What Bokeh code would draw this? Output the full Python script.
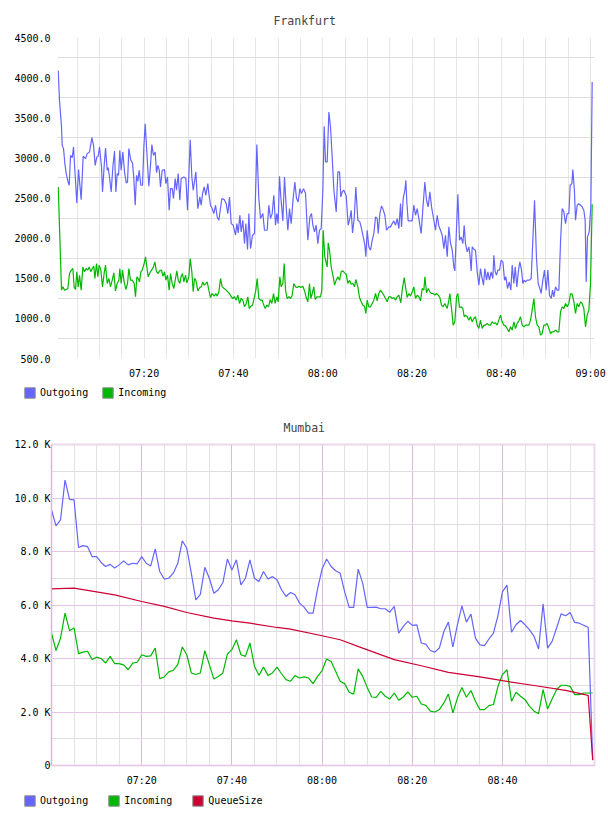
from bokeh.plotting import figure
from bokeh.models import Range1d, FixedTicker, Legend, LegendItem, PrintfTickFormatter
from bokeh.layouts import column
from bokeh.embed import file_html
from bokeh.resources import INLINE

MONO = "DejaVu Sans Mono"
BLUE = "#6464ff"
GREEN = "#00b800"
RED = "#cc0033"

# ---------------- Frankfurt (x = minutes after 07:00) ----------------
fra_out_t = [
    0.76, 1.05, 1.50, 1.65, 1.95, 2.25, 2.55, 2.92, 3.22, 3.52,
    3.89, 4.19, 4.49, 4.93, 5.31, 5.90, 6.35, 6.88, 7.25, 7.77,
    8.30, 8.67, 9.04, 9.41, 9.71, 10.01, 10.46, 10.68, 11.06, 11.36,
    11.73, 11.95, 12.25, 12.62, 13.00, 13.37, 13.67, 13.97, 14.27, 14.56,
    14.86, 15.24, 15.61, 15.99, 16.28, 16.58, 17.03, 17.40, 17.70, 18.00,
    18.30, 18.60, 18.89, 19.27, 19.64, 19.94, 20.24, 20.69, 21.06, 21.43,
    21.73, 22.10, 22.48, 22.78, 23.08, 23.37, 23.67, 24.05, 24.57, 24.87,
    25.24, 25.61, 25.91, 26.29, 26.58, 26.96, 27.26, 27.63, 28.00, 28.30,
    28.90, 29.35, 29.72, 30.32, 30.69, 30.99, 31.59, 32.03, 32.48, 32.78,
    33.08, 33.45, 33.82, 34.27, 34.50, 34.87, 35.24, 35.62, 35.99, 36.37,
    36.74, 37.04, 37.41, 37.93, 38.38, 38.75, 39.13, 39.50, 39.95, 40.47,
    40.77, 41.07, 41.44, 41.74, 42.11, 42.49, 42.78, 43.16, 43.46, 43.83,
    44.28, 44.72, 45.25, 45.69, 46.07, 46.59, 46.96, 47.56, 47.93, 48.31,
    48.68, 49.05, 49.43, 49.72, 50.02, 50.32, 50.62, 51.07, 51.44, 51.82,
    52.19, 52.56, 52.93, 53.38, 53.76, 54.13, 54.50, 54.88, 55.25, 55.70,
    56.15, 56.67, 57.12, 57.49, 57.79, 58.16, 58.53, 58.91, 59.28, 59.66,
    60.03, 60.33,
    60.63, 61.00, 61.38, 61.75, 62.12, 62.50, 63.02, 63.39, 63.77, 64.06,
    64.36, 64.74, 65.26, 65.71, 66.08, 66.38, 66.68, 67.05, 67.42, 67.87,
    68.32, 68.69, 69.07, 69.44, 69.66, 69.96, 70.33, 70.71, 71.08, 71.45,
    71.83, 72.20, 72.42, 72.80, 73.17, 73.54, 73.92, 74.29, 74.81, 75.19,
    75.56, 75.93, 76.31, 76.68, 77.05, 77.43, 77.65, 78.02, 78.40, 78.62,
    78.84, 79.14, 79.67, 80.04, 80.41, 80.79, 81.16, 81.53, 82.05, 82.43,
    82.88, 83.25, 83.62, 84.00, 84.37, 84.89, 85.26, 85.64, 86.01, 86.38,
    86.76, 87.13, 87.50, 87.88, 88.25, 88.62, 89.00, 89.37, 89.59, 90.27,
    90.64, 91.01, 91.39, 91.68, 91.98, 92.36, 92.73, 92.95, 93.25, 93.48,
    93.92, 94.22, 94.60, 94.97, 95.34, 95.64, 96.01, 96.31, 96.69, 96.98,
    97.36, 97.73, 98.10, 98.33, 98.63, 98.93, 99.22, 99.60, 99.97, 100.35,
    100.72, 101.02, 101.39, 101.76, 102.14, 102.43, 102.81, 103.11, 103.48, 103.85,
    104.15, 104.52, 104.82, 105.12, 105.42, 105.79, 106.32, 106.69, 107.06, 107.44,
    107.88, 108.26, 108.63, 108.93, 109.30, 109.67, 110.05, 110.42, 110.79, 111.17,
    111.47, 111.76, 112.14, 112.51, 112.89, 113.26, 113.63, 114.01, 114.38, 114.75,
    115.13, 115.42, 115.80, 116.02, 116.39, 116.62, 116.99, 117.36, 117.74, 118.11,
    118.48, 118.78, 119.01, 119.30, 119.68, 120.05, 120.35,
]
fra_out = [
    4090, 3716, 3385, 3156, 3115, 2928, 2804, 2712, 2659, 3032,
    3003, 3136, 2845, 2439, 2854, 2480, 3020, 2990, 3053, 3073,
    3252, 3156, 2907, 3011, 3020, 3136, 2887, 2576, 2907, 3123,
    2845, 2878, 2762, 2576, 2887, 3086, 2576, 2804, 2783, 3094,
    2845, 3073, 2825, 2688, 2700, 3115, 2970, 2937, 2742, 2410,
    2783, 2708, 2845, 2659, 2659, 3136, 3426, 2990, 2646, 2907,
    3165, 3032, 3073, 2816, 2907, 2854, 2638, 2845, 2854, 2679,
    2762, 2347, 2617, 2617, 2493, 2742, 2596, 2804, 2472, 2742,
    2762, 2742, 2347, 3227, 2762, 2596, 2825, 2368, 2513, 2410,
    2555, 2638, 2534, 2679, 2555, 2410, 2368, 2306, 2410, 2264,
    2223, 2347, 2493, 2480, 2430, 2306, 2513, 2181, 2161, 2036,
    2181, 2065, 2285, 2078, 2223, 1932, 2181, 1858, 2306, 1870,
    2036, 2057, 3165, 2493, 2244, 2306, 2098, 2098, 2410, 2244,
    2306, 2534, 2161, 2306, 2181, 2771, 2513, 2215, 2762, 2389,
    2098, 2368, 2181, 2493, 2700, 2493, 2451, 2617, 2555, 2617,
    2555, 1974, 2264, 2306, 2161, 2078, 2161, 1932, 2098, 2119,
    2596, 3393,
    2949, 2949, 3571, 3385, 3011, 2596, 2327, 2825, 2825, 2513,
    2576, 2596, 2526, 2161, 2244, 2347, 2065, 2244, 2638, 2223,
    2202, 2119, 2015, 1912, 1767, 2098, 1891, 1849, 1974, 2057,
    2264, 2244, 2057, 2306, 2401, 2356, 2285, 2098, 2140, 2140,
    2181, 2215, 2161, 2244, 2119, 2430, 2140, 2493, 2596, 2721,
    2451, 2215, 2215, 2215, 2410, 2285, 2368, 2244, 2057, 2368,
    2700, 2472, 2389, 2576, 2389, 2223, 2098, 2285, 2152, 2098,
    2036, 1870, 2036, 1767, 2140, 1941, 1849, 1642, 1592, 2547,
    1974, 2015, 1932, 2161, 1932, 1829, 1891, 1808, 1592, 1891,
    1858, 1849, 1580, 1414, 1621, 1518, 1414, 1621, 1476, 1580,
    1476, 1580, 1497, 1787, 1580, 1538, 1601, 1601, 1725, 1704,
    1476, 1518, 1372, 1455, 1352, 1663, 1435, 1642, 1393, 1601,
    1704, 1601, 1435, 1476, 1455, 1476, 1476, 1497, 1974, 2472,
    1746, 1435, 1372, 1310, 1476, 1601, 1352, 1601, 1289, 1248,
    1352, 1269, 1393, 1352, 1352, 1953, 2368, 2327, 2181, 2306,
    2306, 2659, 2679, 2854, 2576, 2223, 2410, 2430, 2410, 2389,
    2347, 2223, 1455, 2015, 2078, 2389, 3945,
]
fra_in_t = [
    0.76, 1.05, 1.50, 1.80, 2.17, 2.55, 2.92, 3.29, 3.67, 4.04,
    4.34, 4.64, 4.93, 5.23, 5.53, 5.90, 6.28, 6.65, 7.02, 7.40,
    7.70, 8.07, 8.37, 8.74, 8.97, 9.34, 9.64, 9.94, 10.31, 10.68,
    11.06, 11.36, 11.73, 12.10, 12.47, 12.85, 13.22, 13.59, 13.97, 14.34,
    14.56, 14.86, 15.16, 15.53, 15.91, 16.28, 16.58, 16.95, 17.33, 17.77,
    18.07, 18.37, 18.67, 18.97, 19.27, 19.57, 20.01, 20.31, 20.61, 20.91,
    21.28, 21.66, 22.10, 22.40, 22.78, 23.15, 23.45, 23.90, 24.19, 24.57,
    24.87, 25.24, 25.61, 25.91, 26.29, 26.66, 27.03, 27.33, 27.63, 28.00,
    28.30, 28.60, 28.90, 29.27, 29.57, 30.02, 30.32, 30.69, 30.99, 31.29,
    31.59, 32.03, 32.48, 32.78, 33.15, 33.45, 33.82, 34.12, 34.50, 34.87,
    35.24, 35.69, 36.06, 36.36, 36.74, 37.11, 37.48, 37.93, 38.38, 38.75,
    39.13, 39.50, 39.87, 40.24, 40.62, 40.99, 41.36, 41.74, 42.11, 42.48,
    42.86, 43.23, 43.53, 43.90, 44.28, 44.72, 45.02, 45.32, 45.69, 46.07,
    46.44, 46.81, 47.11, 47.48, 47.86, 48.23, 48.60, 48.98, 49.35, 49.72,
    50.02, 50.40, 50.70, 51.07, 51.37, 51.67, 52.04, 52.41, 52.79, 53.16,
    53.53, 53.91, 54.28, 54.73, 55.10, 55.55, 56.00, 56.29, 56.67, 57.04,
    57.34, 57.64, 58.01, 58.31, 58.68, 59.06, 59.50, 59.80, 60.10, 60.47,
    61.00, 61.23, 61.53, 61.90, 62.35, 62.65, 63.02, 63.39, 63.77, 64.14,
    64.51, 64.89, 65.26, 65.63, 66.00, 66.38, 66.75, 67.12, 67.42, 67.87,
    68.24, 68.62, 68.99, 69.36, 69.66, 69.96, 70.33, 70.71, 71.08, 71.45,
    71.83, 72.20, 72.57, 72.95, 73.32, 73.69, 74.07, 74.44, 74.81, 75.19,
    75.56, 75.93, 76.31, 76.68, 77.05, 77.50, 77.80, 78.25, 78.55, 78.92,
    79.29, 79.67, 80.04, 80.41, 80.79, 81.16, 81.53, 81.91, 82.28, 82.65,
    82.88, 83.25, 83.62, 84.00, 84.37, 84.74, 85.12, 85.49, 85.86, 86.24,
    86.61, 86.98, 87.35, 87.88, 88.25, 88.47, 88.85, 89.22, 89.59, 89.97,
    90.27, 90.64, 91.01, 91.39, 91.68, 91.98, 92.36, 92.73, 93.10, 93.48,
    93.85, 94.22, 94.60, 94.97, 95.34, 95.72, 96.09, 96.46, 96.84, 97.21,
    97.58, 97.96, 98.33, 98.70, 99.07, 99.45, 99.82, 100.19, 100.57, 100.94,
    101.31, 101.69, 102.06, 102.43, 102.81, 103.18, 103.55, 103.93, 104.30, 104.67,
    105.05, 105.42, 105.79, 106.17, 106.54, 106.91, 107.29, 107.66, 108.03, 108.41,
    108.78, 109.15, 109.53, 109.90, 110.27, 110.65, 111.02, 111.39, 111.77, 112.14,
    112.51, 112.89, 113.26, 113.63, 114.01, 114.38, 114.75, 115.13, 115.50, 115.87,
    116.25, 116.62, 116.99, 117.36, 117.74, 118.11, 118.48, 118.86, 119.23, 119.60,
    119.98, 120.35,
]
fra_in = [
    2638, 2140, 1352, 1393, 1352, 1360, 1372, 1559, 1601, 1621,
    1385, 1360, 1580, 1393, 1538, 1352, 1642, 1580, 1621, 1601,
    1642, 1580, 1621, 1650, 1497, 1684, 1518, 1663, 1601, 1393,
    1567, 1663, 1435, 1497, 1393, 1476, 1567, 1343, 1435, 1476,
    1621, 1435, 1601, 1455, 1360, 1435, 1621, 1476, 1476, 1435,
    1269, 1518, 1497, 1455, 1580, 1601, 1684, 1767, 1642, 1518,
    1567, 1601, 1642, 1704, 1580, 1559, 1592, 1601, 1526, 1580,
    1476, 1538, 1352, 1559, 1435, 1372, 1497, 1592, 1476, 1435,
    1526, 1559, 1455, 1538, 1443, 1518, 1746, 1580, 1331, 1497,
    1476, 1343, 1385, 1393, 1455, 1414, 1435, 1455, 1352, 1260,
    1310, 1277, 1310, 1277, 1331, 1497, 1393, 1372, 1352, 1331,
    1310, 1269, 1248, 1269, 1227, 1289, 1186, 1248, 1227, 1144,
    1186, 1269, 1123, 1152, 1165, 1269, 1352, 1497, 1248, 1227,
    1227, 1165, 1123, 1165, 1144, 1235, 1186, 1310, 1186, 1269,
    1206, 1518, 1393, 1435, 1684, 1352, 1248, 1269, 1248, 1289,
    1435, 1393, 1385, 1401, 1385, 1401, 1331, 1260, 1206, 1435,
    1248, 1310, 1393, 1235, 1269, 1269, 1269, 1352, 2098, 1767,
    1642, 1941, 1849, 1642, 1518, 1414, 1476, 1518, 1476, 1580,
    1592, 1567, 1551, 1435, 1476, 1426, 1435, 1393, 1484, 1393,
    1260, 1206, 1165, 1152, 1061, 1227, 1144, 1144, 1186, 1227,
    1310, 1219, 1310, 1352, 1318, 1289, 1248, 1206, 1269, 1269,
    1248, 1260, 1227, 1269, 1289, 1194, 1352, 1509, 1393, 1260,
    1310, 1277, 1331, 1393, 1248, 1289, 1269, 1219, 1372, 1352,
    1518, 1318, 1372, 1331, 1310, 1310, 1289, 1310, 1289, 1260,
    1165, 1144, 1186, 1123, 1227, 1310, 1123, 916, 957, 1269,
    1310, 1136, 1144, 1123, 1020, 1040, 1020, 978, 1020, 957,
    999, 1020, 916, 874, 978, 874, 916, 916, 937, 916,
    916, 957, 937, 945, 916, 978, 1040, 957, 916, 904,
    874, 833, 895, 854, 957, 874, 937, 970, 1020, 916,
    895, 916, 916, 916, 978, 1103, 1248, 1020, 916, 895,
    791, 812, 916, 916, 937, 874, 812, 833, 833, 854,
    833, 833, 1082, 1144, 1123, 1186, 1144, 1186, 1310, 1302,
    1206, 1061, 1186, 1144, 1206, 1186, 1123, 895, 1040, 1103,
    1435, 2422,
]
fra_y_ticks = [500, 1000, 1500, 2000, 2500, 3000, 3500, 4000, 4500]
fra_y_grid = [750, 1250, 1750, 2250, 2750, 3250, 3750, 4250]

# ---------------- Mumbai (one sample per minute after 07:00, values in K) ----------------
mum_t = list(range(121))
mum_out = [
    9.55, 8.96, 9.18, 10.67, 9.95, 9.93, 8.15, 8.22, 8.18, 7.81,
    7.81, 7.59, 7.44, 7.52, 7.38, 7.50, 7.65, 7.50, 7.56, 7.54,
    7.81, 7.56, 7.46, 8.10, 7.25, 6.97, 7.00, 7.19, 7.56, 8.40,
    8.12, 7.19, 6.19, 6.40, 7.41, 7.00, 6.44, 6.57, 6.84, 7.72,
    7.31, 7.69, 6.75, 7.00, 7.69, 7.00, 6.88, 7.25, 6.97, 7.06,
    6.94, 6.57, 6.32, 6.47, 6.38, 6.07, 5.92, 5.70, 5.70, 6.60,
    7.35, 7.72, 7.44, 7.28, 7.19, 6.50, 5.91, 5.91, 7.34, 6.82,
    5.91, 5.91, 5.92, 5.86, 5.86, 5.73, 5.95, 4.95, 5.20, 5.39,
    5.24, 5.26, 4.58, 4.54, 4.30, 4.24, 4.39, 5.01, 5.36, 4.43,
    5.26, 5.97, 5.36, 5.66, 4.76, 4.51, 4.48, 4.73, 4.95, 5.61,
    6.50, 6.74, 4.98, 5.26, 5.42, 5.26, 5.07, 4.83, 4.35, 6.04,
    4.39, 4.64, 5.14, 5.67, 5.60, 5.72, 5.35, 5.32, 5.24, 5.17,
    0.22,
]
mum_in = [
    4.95, 4.30, 4.76, 5.70, 5.04, 5.14, 4.18, 4.24, 4.27, 3.96,
    4.05, 4.00, 3.83, 4.08, 3.81, 3.81, 3.76, 3.58, 3.83, 3.86,
    4.14, 4.08, 4.10, 4.39, 3.25, 3.31, 3.50, 3.56, 3.77, 4.43,
    4.14, 3.46, 3.40, 3.46, 4.29, 3.77, 3.23, 3.33, 3.46, 4.17,
    4.33, 4.70, 4.14, 4.08, 4.58, 3.71, 3.37, 3.68, 3.37, 3.46,
    3.68, 3.43, 3.21, 3.15, 3.36, 3.27, 3.31, 3.27, 3.06, 3.33,
    3.55, 3.98, 3.89, 3.52, 3.15, 3.06, 2.74, 2.67, 3.61, 3.33,
    2.92, 2.56, 2.55, 2.77, 2.59, 2.49, 2.71, 2.44, 2.56, 2.75,
    2.55, 2.59, 2.30, 2.25, 2.03, 2.00, 2.09, 2.34, 2.67, 1.97,
    2.52, 2.92, 2.55, 2.80, 2.40, 2.09, 2.09, 2.24, 2.28, 2.96,
    3.40, 3.58, 2.40, 2.74, 2.59, 2.46, 2.21, 2.03, 1.94, 2.84,
    2.11, 2.49, 2.84, 3.00, 3.00, 2.96, 2.65, 2.65, 2.71, 2.71,
    2.71,
]
mum_q_t = [0, 5, 14, 20, 25, 30, 36, 40, 44, 50, 53, 60, 64, 69, 76, 82, 88, 95, 100, 107, 114, 119, 120]
mum_q = [6.60, 6.63, 6.38, 6.13, 5.95, 5.72, 5.51, 5.41, 5.32, 5.16, 5.10, 4.85, 4.70, 4.39, 3.96,
         3.73, 3.48, 3.31, 3.17, 2.99, 2.81, 2.62, 0.20]
mum_y_ticks = [0, 2, 4, 6, 8, 10, 12]
mum_y_labels = ["0", "2.0 K", "4.0 K", "6.0 K", "8.0 K", "10.0 K", "12.0 K"]

x_label_minutes = [20, 40, 60, 80, 100, 120]
x_labels = ["07:20", "07:40", "08:00", "08:20", "08:40", "09:00"]
grid_minutes = list(range(5, 121, 5))


def style_axes(p, standoff_y, standoff_x):
    for ax in (p.xaxis[0], p.yaxis[0]):
        ax.major_tick_line_color = None
        ax.minor_tick_line_color = None
        ax.major_tick_out = 0
        ax.major_tick_in = 0
        ax.minor_tick_out = 0
        ax.major_label_text_font = MONO
        ax.major_label_text_font_size = "10px"
        ax.major_label_text_color = "#000000"
    p.yaxis[0].major_label_standoff = standoff_y
    p.xaxis[0].major_label_standoff = standoff_x


def legend_strip(names, colors, height, y_loc, spacing):
    q = figure(width=608, height=height, x_range=Range1d(0, 1), y_range=Range1d(0, 1),
               x_axis_type=None, y_axis_type=None, toolbar_location=None,
               output_backend="svg", min_border=0, outline_line_color=None)
    q.frame_align = False
    items = []
    for n, c in zip(names, colors):
        # a swatch-only renderer, parked outside the visible range
        r = q.quad(left=[5], right=[6], top=[6], bottom=[5], fill_color=c, line_color="#8a8a8a")
        items.append(LegendItem(label=n, renderers=[r]))
    lg = Legend(items=items, orientation="horizontal", location=(23, y_loc),
                glyph_width=13, glyph_height=13, label_height=13, label_standoff=4,
                spacing=spacing, padding=0, margin=0, border_line_color=None,
                background_fill_alpha=0, label_text_font=MONO, label_text_font_size="10px",
                label_text_color="#000000")
    q.add_layout(lg)
    return q


# ---------------- Figure 1 ----------------
p1 = figure(width=608, height=384, x_range=Range1d(0.6, 120.87), y_range=Range1d(500, 4500),
            toolbar_location=None, output_backend="svg",
            min_border_left=57, min_border_right=14, min_border_top=37, min_border_bottom=26)
p1.frame_align = False
p1.title.text = "Frankfurt"
p1.title.text_font = MONO
p1.title.text_font_size = "11.5px"
p1.title.text_font_style = "normal"
p1.title.align = "left"
p1.title.offset = 216
p1.title.standoff = 20
p1.outline_line_color = None
p1.yaxis[0].ticker = FixedTicker(ticks=fra_y_ticks)
p1.yaxis[0].formatter = PrintfTickFormatter(format="%.1f")
p1.yaxis[0].axis_line_color = None
p1.xaxis[0].ticker = FixedTicker(ticks=x_label_minutes)
p1.xaxis[0].major_label_overrides = dict(zip(x_label_minutes, x_labels))
p1.xaxis[0].axis_line_color = None
style_axes(p1, 7, 9)
p1.ygrid[0].ticker = FixedTicker(ticks=fra_y_grid)
p1.ygrid[0].grid_line_color = "#dedede"
p1.xgrid[0].ticker = FixedTicker(ticks=grid_minutes)
p1.xgrid[0].grid_line_color = "#e6e6e6"

p1.line(fra_out_t, fra_out, line_color=BLUE, line_width=1.2)
p1.line(fra_in_t, fra_in, line_color=GREEN, line_width=1.2)

leg1 = legend_strip(["Outgoing", "Incoming"], [BLUE, GREEN], 20, 5.5, 13)

# ---------------- Figure 2 ----------------
p2 = figure(width=608, height=384, x_range=Range1d(0, 120.4), y_range=Range1d(0, 12),
            toolbar_location=None, output_backend="svg",
            min_border_left=51, min_border_right=14, min_border_top=40, min_border_bottom=22)
p2.frame_align = False
p2.title.text = "Mumbai"
p2.title.text_font = MONO
p2.title.text_font_size = "11.5px"
p2.title.text_font_style = "normal"
p2.title.align = "left"
p2.title.offset = 232
p2.title.standoff = 20
p2.outline_line_color = "#ecd8ec"
p2.outline_line_width = 2
p2.yaxis[0].ticker = FixedTicker(ticks=mum_y_ticks)
p2.yaxis[0].major_label_overrides = dict(zip(mum_y_ticks, mum_y_labels))
p2.yaxis[0].axis_line_color = "#dcbadc"
p2.xaxis[0].ticker = FixedTicker(ticks=x_label_minutes[:-1])
p2.xaxis[0].major_label_overrides = dict(zip(x_label_minutes, x_labels))
p2.xaxis[0].axis_line_color = "#e4c8e4"
style_axes(p2, 1, 9)
p2.ygrid[0].ticker = FixedTicker(ticks=[2, 4, 6, 8, 10, 12], minor_ticks=[1, 3, 5, 7, 9, 11])
p2.ygrid[0].grid_line_color = "#e2c6e2"
p2.ygrid[0].minor_grid_line_color = "#dddddd"
p2.xgrid[0].ticker = FixedTicker(ticks=[20, 40, 60, 80, 100],
                                 minor_ticks=[m for m in grid_minutes if m % 20])
p2.xgrid[0].grid_line_color = "#dcbcdc"
p2.xgrid[0].minor_grid_line_color = "#e2e2e2"

p2.line(mum_t, mum_out, line_color=BLUE, line_width=1.2)
p2.line(mum_t, mum_in, line_color=GREEN, line_width=1.2)
p2.line(mum_q_t, mum_q, line_color=RED, line_width=1.2)

leg2 = legend_strip(["Outgoing", "Incoming", "QueueSize"], [BLUE, GREEN, RED], 28, 9.5, 19)

layout = column(p1, leg1, p2, leg2, spacing=0)
open("out.html", "w").write(file_html(layout, INLINE))
